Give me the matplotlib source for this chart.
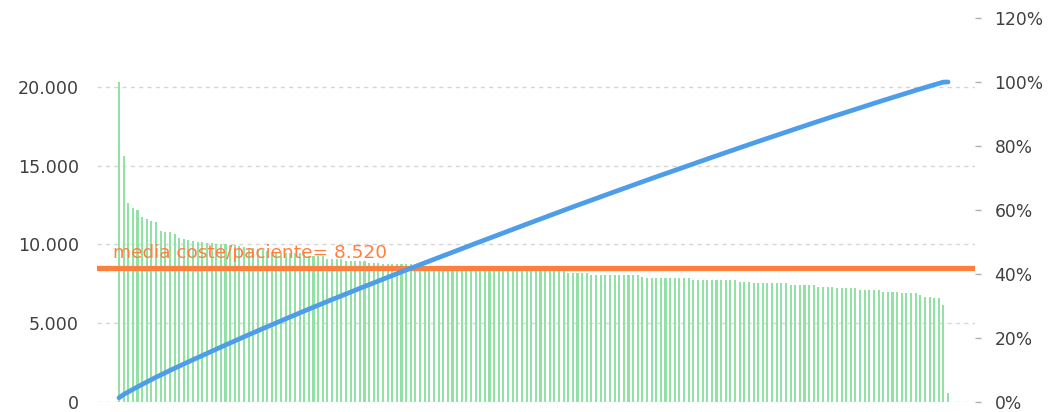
import matplotlib
matplotlib.use("Agg")
import matplotlib.pyplot as plt
from matplotlib.ticker import FuncFormatter
import numpy as np

# coste por paciente, ordenado de mayor a menor
coste = [
    20300, 15600, 12650, 12300, 12190, 11770, 11620, 11510, 11430, 10880,
    10790, 10770, 10670, 10430, 10350, 10290, 10200, 10160, 10140, 10120,
    10080, 10050, 10010, 10000, 9980, 9950, 9900, 9850, 9800, 9750,
    9700, 9650, 9600, 9550, 9500, 9440, 9440, 9440, 9440, 9440,
    9440, 9270, 9270, 9270, 9270, 9060, 9060, 9060, 9060, 8950,
    8950, 8950, 8950, 8950, 8850, 8850, 8850, 8760, 8760, 8760,
    8760, 8760, 8760, 8760, 8600, 8600, 8590, 8580, 8570, 8560,
    8550, 8540, 8530, 8520, 8510, 8500, 8490, 8480, 8470, 8460,
    8450, 8440, 8430, 8420, 8410, 8400, 8400, 8390, 8390, 8380,
    8380, 8370, 8370, 8360, 8360, 8350, 8350, 8170, 8170, 8170,
    8170, 8170, 8060, 8060, 8060, 8060, 8060, 8060, 8060, 8060,
    8060, 8060, 8060, 7960, 7850, 7850, 7850, 7850, 7850, 7850,
    7850, 7850, 7850, 7850, 7750, 7750, 7750, 7750, 7750, 7750,
    7750, 7750, 7750, 7750, 7640, 7640, 7640, 7530, 7530, 7530,
    7530, 7530, 7530, 7530, 7530, 7430, 7430, 7430, 7430, 7430,
    7430, 7320, 7320, 7320, 7320, 7220, 7220, 7220, 7220, 7220,
    7110, 7110, 7110, 7110, 7110, 7000, 7000, 7000, 7000, 6900,
    6900, 6900, 6900, 6790, 6690, 6690, 6580, 6580, 6160, 570,
]
media = 8520
etiqueta_media = "media coste/paciente= 8.520"

left_ticks = [0, 5000, 10000, 15000, 20000]
right_ticks = [0, 0.2, 0.4, 0.6, 0.8, 1.0, 1.2]

verde = "#93e2a5"
azul = "#4d9dea"
naranja = "#ff7f3f"
gris = "#404040"

x = np.arange(len(coste))
acumulado = np.cumsum(coste) / np.sum(coste)

fig = plt.figure(figsize=(10.54, 4.12), dpi=100)
ax = fig.add_axes([0.092, 0.0243, 0.833, 0.932])
ax2 = ax.twinx()

ax.bar(x, coste, width=0.45, color=verde, zorder=2)
ax.axhline(media, color=naranja, lw=3.8, zorder=3)
ax.text(-1.3, 9150, etiqueta_media, color=naranja, fontsize=13.3,
        ha="left", va="baseline", zorder=4)

ax2.plot(x, acumulado, color=azul, lw=3.4, solid_capstyle="round")

ax.set_xlim(-4.75, len(coste) - 1 + 5.8)
ax.set_ylim(0, 20000 * 384 / 315)
ax2.set_ylim(0, 1.2)

ax.set_yticks(left_ticks)
ax.yaxis.set_major_formatter(FuncFormatter(lambda v, p: f"{int(v):,}".replace(",", ".")))
ax.tick_params(axis="y", length=0, pad=13, labelsize=12.6, labelcolor=gris)
ax.set_xticks([])
ax.grid(axis="y", color="#d6d6d6", linestyle=(0, (3, 3)), lw=1, zorder=0)
ax.set_axisbelow(True)

ax2.set_yticks(right_ticks)
ax2.yaxis.set_major_formatter(FuncFormatter(lambda v, p: f"{v * 100:.0f}%"))
ax2.tick_params(axis="y", length=4, width=1, color="#b0b0b0", pad=10,
                labelsize=12.3, labelcolor=gris)

for a in (ax, ax2):
    for s in a.spines.values():
        s.set_visible(False)

fig.savefig("out.png", dpi=100)
